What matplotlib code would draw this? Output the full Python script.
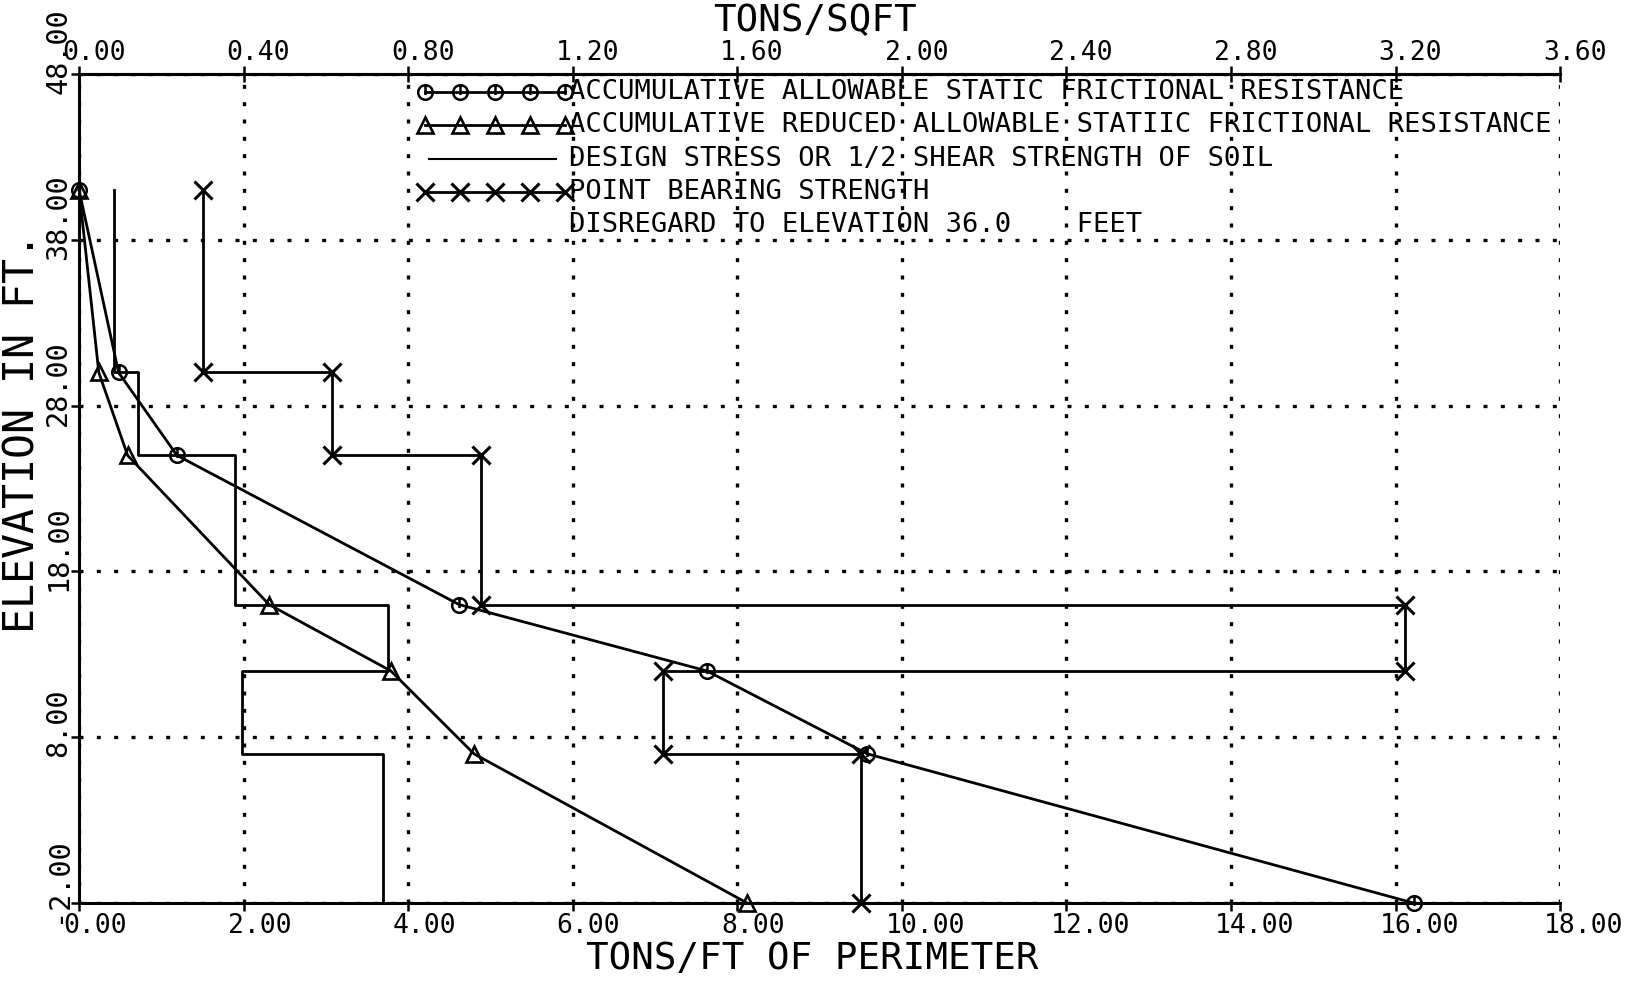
import numpy as np
import matplotlib
matplotlib.use("Agg")
import matplotlib.pyplot as plt
from matplotlib.path import Path
from matplotlib import transforms as mtransforms

plt.rcParams['font.family'] = ['DejaVu Sans Mono']

# elevations of layer boundaries (ft)
elevation = [41, 30, 25, 16, 12, 7, -2]

# accumulative values at each boundary (tons/ft of perimeter)
allowable = [0.0, 0.48, 1.19, 4.62, 7.63, 9.58, 16.22]
reduced = [0.0, 0.24, 0.59, 2.31, 3.79, 4.80, 8.12]

# one value per layer (between two boundaries)
design_stress = [0.42, 0.72, 1.90, 3.76, 1.98, 3.70]
point_bearing = [1.51, 3.07, 4.88, 16.12, 7.10, 9.50]

x_ticks = [0, 2, 4, 6, 8, 10, 12, 14, 16, 18]
top_ticks = [0.0, 0.4, 0.8, 1.2, 1.6, 2.0, 2.4, 2.8, 3.2, 3.6]
y_ticks = [-2, 8, 18, 28, 38, 48]
sqft_factor = 5.0

legend_labels = [
    "ACCUMULATIVE ALLOWABLE STATIC FRICTIONAL RESISTANCE",
    "ACCUMULATIVE REDUCED ALLOWABLE STATIIC FRICTIONAL RESISTANCE",
    "DESIGN STRESS OR 1/2 SHEAR STRENGTH OF SOIL",
    "POINT BEARING STRENGTH",
    "DISREGARD TO ELEVATION 36.0    FEET",
]


def layer_steps(values, elev):
    """Turn per-layer values into a stepped vertical profile."""
    xs = np.repeat(values, 2)
    ys = np.repeat(elev, 2)[1:-1]
    return xs, ys


# circle with a small vertical stroke, like the plotter symbol
circle_tick = Path.make_compound_path(
    Path.unit_circle(), Path([[0, 0.95], [0, -0.35]]))

LW = 2.0
line_kw = dict(color='black', lw=LW, clip_on=False)
circ_kw = dict(marker=circle_tick, ms=10.5, mfc='none', mec='black', mew=1.8)
tri_kw = dict(marker='^', ms=11, mfc='none', mec='black', mew=1.9)
x_kw = dict(marker='x', ms=13, mec='black', mew=2.2)

fig = plt.figure(figsize=(16.37, 9.82), dpi=100)
ax = fig.add_axes([0.0483, 0.0804, 0.9047, 0.8442])
ax.set_xlim(0, 18)
ax.set_ylim(-2, 48)

ax.plot(allowable, elevation, **line_kw, **circ_kw)
ax.plot(reduced, elevation, **line_kw, **tri_kw)

dx, dy = layer_steps(design_stress, elevation)
ax.plot(dx, dy, **line_kw)

px, py = layer_steps(point_bearing, elevation)
ax.plot(px, py, **line_kw)
ax.plot(px, py, ls='none', clip_on=False, **x_kw)

# grid, ticks, spines
ax.set_xticks(x_ticks)
ax.set_yticks(y_ticks)
ax.set_xticklabels([])
ax.set_yticklabels([])
ax.set_axisbelow(True)
ax.grid(True, color='black', lw=2.4, linestyle=(0, (1.2, 4.0)))
ax.tick_params(direction='out', length=6, width=1.8)
ax.spines['right'].set_visible(False)
for s in ['left', 'bottom', 'top']:
    ax.spines[s].set_linewidth(2.2)

secax = ax.secondary_xaxis('top', functions=(lambda x: x / sqft_factor,
                                             lambda x: x * sqft_factor))
secax.set_xticks(top_ticks)
secax.set_xticklabels([])
secax.tick_params(direction='inout', length=11, width=1.8)
secax.spines['top'].set_linewidth(2.2)

# tick labels drawn by hand (plotter style offsets)
bot_tr = mtransforms.offset_copy(
    mtransforms.blended_transform_factory(ax.transData, ax.transAxes),
    fig=fig, x=-16, y=-10, units='dots')
for v in x_ticks:
    ax.text(v, 0, f"{v:.2f}", transform=bot_tr, ha='left', va='top',
            fontsize=19)

top_tr = mtransforms.offset_copy(
    mtransforms.blended_transform_factory(ax.transData, ax.transAxes),
    fig=fig, x=-17, y=14, units='dots')
for v in top_ticks:
    ax.text(v * sqft_factor, 1, f"{v:.2f}", transform=top_tr, ha='left',
            va='baseline', fontsize=19)

left_tr = mtransforms.offset_copy(
    mtransforms.blended_transform_factory(ax.transAxes, ax.transData),
    fig=fig, x=-7, y=-20, units='dots')
for v in y_ticks:
    ax.text(0, v, f"{v:.2f}", transform=left_tr, rotation=90, ha='right',
            va='bottom', fontsize=20.5)

# axis titles
fig.text(0.496, 0.0234, "TONS/FT OF PERIMETER", ha='center', va='center',
         fontsize=27)
fig.text(0.498, 0.979, "TONS/SQFT", ha='center', va='center', fontsize=27)
fig.text(0.0135, 0.559, "ELEVATION IN FT.", rotation=90, ha='center',
         va='center', fontsize=30)

# legend block inside the plot
rows = [46.9, 44.9, 42.9, 40.9, 38.9]
sym_x = np.linspace(4.2, 5.9, 5)
ax.plot(sym_x, [rows[0]] * 5, **line_kw, **circ_kw)
ax.plot(sym_x, [rows[1]] * 5, **line_kw, **tri_kw)
ax.plot([4.25, 5.8], [rows[2]] * 2, color='black', lw=1.5)
ax.plot(sym_x, [rows[3]] * 5, **line_kw, **x_kw)
for r, lab in zip(rows, legend_labels):
    ax.text(5.96, r, lab, ha='left', va='center', fontsize=19.5)

fig.savefig("out.png", dpi=100)
